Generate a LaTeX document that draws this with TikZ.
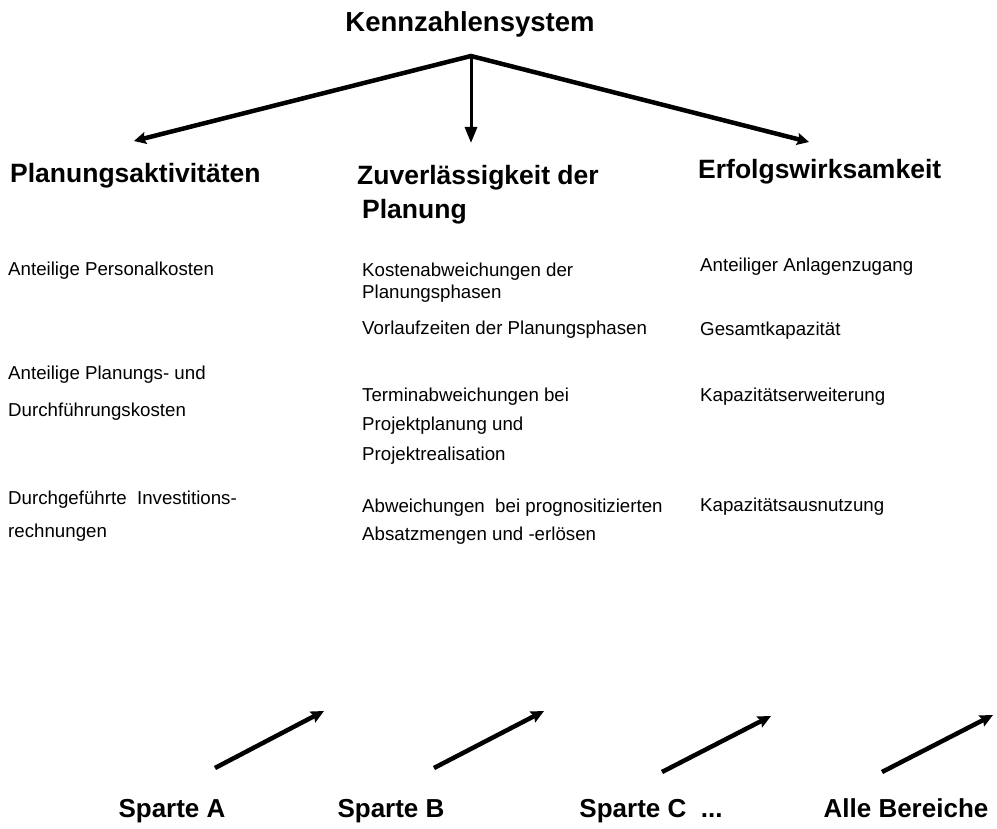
\documentclass[tikz,border=0pt]{standalone}
\usepackage{fontspec}
\setmainfont{Liberation Sans}
\usetikzlibrary{arrows.meta,positioning}

\begin{document}
\begin{tikzpicture}[
    x=1pt, y=-1pt,
    title/.style={font=\fontsize{27.5}{30}\selectfont\bfseries, inner sep=0pt, anchor=base},
    head/.style={font=\fontsize{26.5}{30}\selectfont\bfseries, inner sep=0pt, anchor=base west},
    item/.style={font=\fontsize{18.7}{22}\selectfont, inner sep=0pt, anchor=base west},
    sparte/.style={font=\fontsize{26}{30}\selectfont\bfseries, inner sep=0pt, anchor=base},
    arrow/.style={-{Stealth[length=13pt,width=12pt,inset=2pt]}, line width=4.5pt},
    twoway/.style={{Stealth[length=12pt,width=12pt,inset=2pt]}-{Stealth[length=12pt,width=12pt,inset=2pt]}, line width=4.5pt, line join=miter},
    thinarrow/.style={-{Triangle[length=16pt,width=12pt]}, line width=3pt}
]
    \useasboundingbox (0,0) rectangle (997,829);

    % Title
    \node[title] (kenn) at (470,32) {Kennzahlensystem};

    % Headings
    \node[head] (plan) at (10,183) {Planungsaktivitäten};
    \node[head] (zuv) at (357,185) {Zuverlässigkeit der};
    \node[head] (zuvb) at (362,219) {Planung};
    \node[head] (erf) at (698,179) {Erfolgswirksamkeit};

    % Column 1
    \node[item] (pers) at (8,276) {Anteilige Personalkosten};
    \node[item] (pdk) at (8,379) {Anteilige Planungs- und};
    \node[item] (pdkb) at ([yshift=-38pt]pdk.base west) {Durchführungskosten};
    \node[item] (inv) at (8,504) {Durchgeführte\ \ Investitions-};
    \node[item] (invb) at ([yshift=-33pt]inv.base west) {rechnungen};

    % Column 2
    \node[item] (kost) at (362,277) {Kostenabweichungen der};
    \node[item] (kostb) at ([yshift=-22pt]kost.base west) {Planungsphasen};
    \node[item] (vorl) at (362,335) {Vorlaufzeiten der Planungsphasen};
    \node[item] (term) at (362,401) {Terminabweichungen bei};
    \node[item] (termb) at ([yshift=-29pt]term.base west) {Projektplanung und};
    \node[item] (termc) at ([yshift=-30pt]termb.base west) {Projektrealisation};
    \node[item] (abw) at (362,512) {Abweichungen\ \ bei prognositizierten};
    \node[item] (abwb) at ([yshift=-28pt]abw.base west) {Absatzmengen und -erlösen};

    % Column 3
    \node[item] (anl) at (700,272) {Anteiliger Anlagenzugang};
    \node[item] (ges) at (700,336) {Gesamtkapazität};
    \node[item] (erw) at (700,401) {Kapazitätserweiterung};
    \node[item] (aus) at (700,511) {Kapazitätsausnutzung};

    % Sparten
    \node[sparte] (spa) at (172,817) {Sparte A};
    \node[sparte] (spb) at (391,817) {Sparte B};
    \node[sparte] (spc) at (651,817) {Sparte C\ \ ...};
    \node[sparte] (alle) at (906,817) {Alle Bereiche};

    % Connections
    \coordinate (apex) at (471,56);
    \coordinate (tipplan) at (134,141);
    \coordinate (tipzuv) at (471,143);
    \coordinate (tiperf) at (809,142);
    \draw[twoway] (tipplan) -- (apex) -- (tiperf);
    \draw[thinarrow] (apex) -- (tipzuv);

    \coordinate (a0) at (215,768); \coordinate (a1) at (324,711);
    \coordinate (b0) at (434,768); \coordinate (b1) at (544,711);
    \coordinate (c0) at (662,772); \coordinate (c1) at (771,716);
    \coordinate (d0) at (882,772); \coordinate (d1) at (993,715);
    \draw[arrow] (a0) -- (a1);
    \draw[arrow] (b0) -- (b1);
    \draw[arrow] (c0) -- (c1);
    \draw[arrow] (d0) -- (d1);
\end{tikzpicture}
\end{document}
